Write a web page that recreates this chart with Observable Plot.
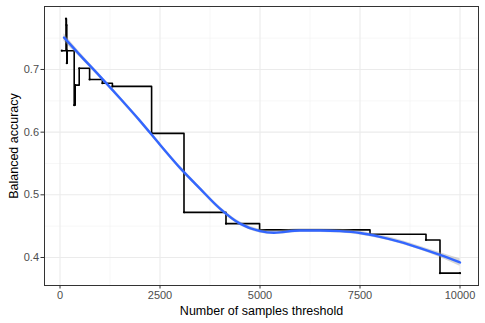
<!DOCTYPE html>
<html>
<head>
<meta charset="utf-8">
<script src="https://cdn.jsdelivr.net/npm/d3@7"></script>
<script src="https://cdn.jsdelivr.net/npm/@observablehq/plot@0.6"></script>
<style>
  html, body { margin: 0; padding: 0; background: #fff; }
  #chart { width: 485px; height: 323px; }
</style>
</head>
<body>
<div id="chart"></div>
<script>
// Step data: threshold -> balanced accuracy
const thresholds = [45, 150, 160, 170, 180, 355, 380, 480, 740, 1060, 1310, 2290, 3100, 4150, 4990, 7750, 9150, 9500, 10000];
const accuracy   = [0.730, 0.781, 0.771, 0.710, 0.730, 0.643, 0.675, 0.702, 0.684, 0.678, 0.673, 0.598, 0.472, 0.454, 0.444, 0.437, 0.428, 0.375, 0.375];

// Smooth (loess) curve
const smoothX  = [100, 500, 1000, 1500, 2000, 2500, 3000, 3500, 4000, 4500, 5000, 5350, 6000, 6500, 7000, 7500, 8000, 8500, 9000, 9500, 10000];
const smoothY  = [0.751, 0.723, 0.689, 0.654, 0.618, 0.580, 0.543, 0.510, 0.478, 0.454, 0.442, 0.4395, 0.443, 0.443, 0.442, 0.439, 0.433, 0.425, 0.415, 0.404, 0.392];
const smoothSE = [0.006, 0.004, 0.003, 0.003, 0.003, 0.003, 0.003, 0.003, 0.003, 0.003, 0.003, 0.003, 0.003, 0.003, 0.003, 0.003, 0.003, 0.003, 0.003, 0.004, 0.006];

const xTicks = [0, 2500, 5000, 7500, 10000];
const xMinor = [1250, 3750, 6250, 8750];
const yTicks = [0.4, 0.5, 0.6, 0.7];
const yMinor = [0.45, 0.55, 0.65, 0.75];

const steps = thresholds.map((x, i) => ({x, y: accuracy[i]}));
const smooth = smoothX.map((x, i) => ({x, y: smoothY[i], lo: smoothY[i] - smoothSE[i], hi: smoothY[i] + smoothSE[i]}));

const chart = Plot.plot({
  width: 485,
  height: 323,
  marginLeft: 44,
  marginRight: 7,
  marginTop: 6,
  marginBottom: 38,
  style: {fontFamily: "Liberation Sans, Arial, sans-serif", background: "#fff"},
  x: {domain: [-387.5, 10462.5]},
  y: {domain: [0.3553, 0.8005]},
  marks: [
    Plot.ruleX(xMinor, {stroke: "#f2f2f2", strokeWidth: 0.6}),
    Plot.ruleY(yMinor, {stroke: "#f2f2f2", strokeWidth: 0.6}),
    Plot.ruleX(xTicks, {stroke: "#ebebeb", strokeWidth: 1.1}),
    Plot.ruleY(yTicks, {stroke: "#ebebeb", strokeWidth: 1.1}),
    Plot.line(steps, {x: "x", y: "y", curve: "step-after", stroke: "#000", strokeWidth: 1.6}),
    Plot.dot(steps, {x: "x", y: "y", r: 1.1, fill: "#000", stroke: null}),
    Plot.areaY(smooth, {x: "x", y1: "lo", y2: "hi", curve: "monotone-x", fill: "#999999", fillOpacity: 0.4}),
    Plot.line(smooth, {x: "x", y: "y", curve: "monotone-x", stroke: "#3366FF", strokeWidth: 2.4}),
    Plot.frame({stroke: "#333333", strokeWidth: 1}),
    Plot.axisX(xTicks, {tickSize: 3.5, tickPadding: 2, stroke: "#333333", fill: "#4d4d4d", fontSize: 11, label: "Number of samples threshold", labelAnchor: "center", labelArrow: "none", labelOffset: 29, tickFormat: d => String(d)}),
    Plot.axisY(yTicks, {tickSize: 3.5, tickPadding: 2, stroke: "#333333", fill: "#4d4d4d", fontSize: 11, label: "Balanced accuracy", labelAnchor: "center", labelArrow: "none", labelOffset: 35, tickFormat: d => d.toFixed(1)})
  ]
});
document.getElementById("chart").appendChild(chart);
// axis title styling
chart.querySelectorAll("g[aria-label='x-axis label'] text, g[aria-label='y-axis label'] text").forEach(t => {
  t.setAttribute("font-size", "12.5");
  t.setAttribute("fill", "#000");
});
</script>
</body>
</html>
